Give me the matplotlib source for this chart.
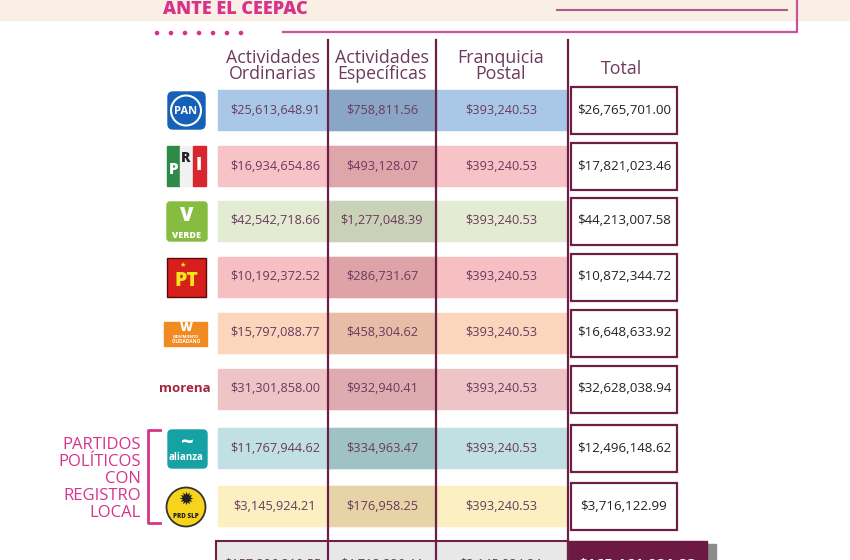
import matplotlib.pyplot as plt
from matplotlib.patches import Rectangle, FancyBboxPatch, Circle

plt.rcParams['font.family'] = ['Open Sans', 'DejaVu Sans']

# data
partidos = ['PAN', 'PRI', 'VERDE', 'PT', 'MC', 'morena', 'NUEVA ALIANZA', 'PRD SLP']
ordinarias = [25613648.91, 16934654.86, 42542718.66, 10192372.52,
              15797088.77, 31301858.00, 11767944.62, 3145924.21]
especificas = [758811.56, 493128.07, 1277048.39, 286731.67,
               458304.62, 932940.41, 334963.47, 176958.25]
postal = [393240.53] * 8
totales = [26765701.00, 17821023.46, 44213007.58, 10872344.72,
           16648633.92, 32628038.94, 12496148.62, 3716122.99]
encabezados = ['Actividades\nOrdinarias', 'Actividades\nEspecíficas',
               'Franquicia\nPostal', 'Total']

# row colours (band, darker "especificas" cell)
band_colors = ['#a9c8e8', '#f8c3c7', '#e3ebd3', '#f6c0c2',
               '#fbd5bc', '#efc4c7', '#c0e0e3', '#fcefc2']
dark_colors = ['#8aa6c6', '#dfa6aa', '#c9d1b7', '#dea3a7',
               '#e7bda7', '#deacb0', '#9fc2c4', '#e7d4a6']

maroon = '#6e1f45'
plum = '#6b3a5e'
magenta = '#d6338a'

fig = plt.figure(figsize=(8.5, 5.6), dpi=100)
ax = fig.add_axes([0, 0, 1, 1])
ax.set_xlim(0, 850)
ax.set_ylim(560, 0)
ax.axis('off')

# header banner
ax.add_patch(Rectangle((0, 0), 850, 20, color='#f9efe5', zorder=0))
ax.text(235, 14.5, 'ANTE EL CEEPAC', color=magenta, fontsize=13, fontweight='heavy',
        ha='center', va='baseline')
ax.text(668, -6, 'FINANCIAMIENTO 2023', color='#9a9a9a', fontsize=11,
        fontweight='bold', ha='center', va='center')
ax.plot([557, 787], [10, 10], color='#b05a8c', lw=1.5)
ax.plot([283, 797, 797], [32, 32, 0], color='#c8559a', lw=1.6)
for i in range(7):
    ax.add_patch(Circle((157 + i * 14, 33), 1.6, color=magenta))

# column geometry
col_edges = [218, 328, 436, 568]
col_centers = [273, 382, 501, 623]
row_y = [110, 166, 221, 277, 333, 389, 448, 506]
band_h = 40

for j, h in enumerate(encabezados):
    ax.text(col_centers[j] + (0 if j < 3 else -1), 66 if j < 3 else 69, h, color=plum,
            fontsize=12.8, fontweight='medium', ha='center', va='center', linespacing=0.92)

for i, y in enumerate(row_y):
    ax.add_patch(Rectangle((col_edges[0], y - band_h / 2), col_edges[3] - col_edges[0],
                           band_h, color=band_colors[i], zorder=1))
    ax.add_patch(Rectangle((col_edges[1], y - band_h / 2), col_edges[2] - col_edges[1],
                           band_h, color=dark_colors[i], zorder=1))
    vals = [ordinarias[i], especificas[i], postal[i]]
    for j, v in enumerate(vals):
        ax.text(col_centers[j] + (2 if j == 0 else 0), y, f'${v:,.2f}', color=plum,
                fontsize=9.2, ha='center', va='center', zorder=3)
    ax.add_patch(Rectangle((571, y - 23), 106, 47, facecolor='white',
                           edgecolor=maroon, lw=1.6, zorder=2))
    ax.text(624, y, f'${totales[i]:,.2f}', color='#222222', fontsize=9.6,
            ha='center', va='center', zorder=3)

# vertical separators
for x in col_edges[1:]:
    ax.plot([x, x], [40, 560], color=maroon, lw=1.6, zorder=4)

# totals row (cut by the image edge, as in the reference)
ty = 541
sums = [sum(ordinarias), sum(especificas), sum(postal)]
ax.add_patch(Rectangle((216, ty), 352, 40, facecolor='#e9e8e8', edgecolor=maroon,
                       lw=1.5, zorder=2))
ax.add_patch(Rectangle((707, ty + 3), 9, 40, color='#8c8c8c', zorder=1))
ax.add_patch(Rectangle((568, ty), 139, 40, color='#6c1a44', zorder=2))
for j, v in enumerate(sums):
    ax.text(col_centers[j], ty + 24, f'${v:,.2f}', color=plum, fontsize=9.2,
            ha='center', va='center', zorder=3)
ax.text(637, ty + 24, f'${sum(totales):,.2f}', color='white', fontsize=11,
        fontweight='bold', ha='center', va='center', zorder=3)

# logos
lx = 186
# PAN
ax.add_patch(FancyBboxPatch((168, 92), 37, 37, boxstyle='round,pad=0,rounding_size=5',
                            color='#1560b8', zorder=2))
ax.add_patch(Circle((lx, 110.5), 15, facecolor='none', edgecolor='white', lw=1.5, zorder=3))
ax.text(lx, 111, 'PAN', color='white', fontsize=8, fontweight='bold',
        ha='center', va='center', zorder=4)
# PRI
ax.add_patch(Rectangle((167, 146), 13, 40, color='#2e8b47', zorder=2))
ax.add_patch(Rectangle((180, 146), 13, 40, color='#f1f1f1', zorder=2))
ax.add_patch(Rectangle((193, 146), 13, 40, color='#d8262e', zorder=2))
ax.text(174, 170, 'P', color='white', fontsize=11, fontweight='heavy', ha='center', va='center', zorder=3)
ax.text(186, 158, 'R', color='#222222', fontsize=10, fontweight='heavy', ha='center', va='center', zorder=3)
ax.text(199, 166, 'I', color='white', fontsize=13, fontweight='heavy', ha='center', va='center', zorder=3)
# VERDE
ax.add_patch(FancyBboxPatch((167, 202), 40, 39, boxstyle='round,pad=0,rounding_size=3',
                            color='#86bc3f', zorder=2))
ax.text(lx + 1, 216, 'V', color='white', fontsize=14, fontweight='heavy', ha='center', va='center', zorder=3)
ax.text(lx + 1, 235, 'VERDE', color='white', fontsize=6.5, fontweight='heavy', ha='center', va='center', zorder=3)
# PT
ax.add_patch(Rectangle((167, 258), 39, 39, facecolor='#d7201c', edgecolor='#5a0a0a', lw=1, zorder=2))
ax.text(lx, 281, 'PT', color='#f7e51c', fontsize=14, fontweight='heavy', ha='center', va='center', zorder=3)
ax.text(lx - 3, 265, '★', color='#f7e51c', fontsize=5, ha='center', va='center', zorder=3)
# Movimiento Ciudadano
ax.add_patch(Rectangle((164, 322), 43, 24, color='#f28a22', zorder=2))
ax.text(lx, 328, 'W', color='white', fontsize=9, fontweight='heavy', ha='center', va='center', zorder=3)
ax.text(lx, 337, 'MOVIMIENTO', color='white', fontsize=2.8, fontweight='bold', ha='center', va='center', zorder=3)
ax.text(lx, 341.5, 'CIUDADANO', color='white', fontsize=3.5, fontweight='bold', ha='center', va='center', zorder=3)
# morena
ax.text(lx - 1, 389, 'morena', color='#a4243b', fontsize=9.5, fontweight='bold',
        ha='center', va='center', zorder=3)
# Nueva Alianza
ax.add_patch(FancyBboxPatch((168, 430), 39, 38, boxstyle='round,pad=0,rounding_size=4',
                            color='#16a2a4', zorder=2))
ax.text(lx + 1, 443, '~', color='white', fontsize=16, fontweight='bold', ha='center', va='center', zorder=3)
ax.text(lx, 457, 'alianza', color='white', fontsize=7, fontweight='bold', ha='center', va='center', zorder=3)
# PRD SLP
ax.add_patch(Circle((lx, 507), 19.5, facecolor='#f8d31b', edgecolor='#333333', lw=1.3, zorder=2))
ax.text(lx, 500, '✹', color='#222222', fontsize=13, ha='center', va='center', zorder=3)
ax.text(lx, 516, 'PRD SLP', color='#222222', fontsize=4.5, fontweight='heavy', ha='center', va='center', zorder=3)

# local parties bracket
ax.plot([160, 148, 148, 160], [430, 430, 523, 523], color=magenta, lw=2, zorder=3)
ax.text(141, 479, 'PARTIDOS\nPOLÍTICOS\nCON\nREGISTRO\nLOCAL', color=magenta,
        fontsize=12, fontweight='medium', ha='right', va='center', linespacing=1.08)

fig.savefig('out.png', dpi=100)
